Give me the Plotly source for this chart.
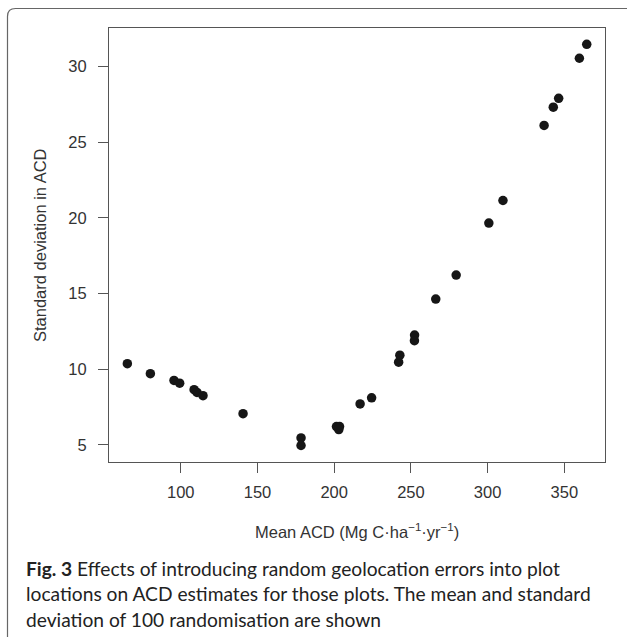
import plotly.graph_objects as go

# Data
mean_acd = [65.2, 80.2, 95.6, 99.3, 108.7, 110.6, 114.5, 140.6, 178.4, 178.4,
            201.5, 203.5, 203.0, 216.9, 224.4, 242.0, 242.8, 252.4, 252.3,
            266.2, 279.5, 300.8, 310.0, 336.8, 342.8, 346.3, 359.8, 364.6]
sd_acd = [10.36, 9.70, 9.25, 9.07, 8.64, 8.46, 8.24, 7.05, 5.45, 4.95,
          6.20, 6.20, 6.00, 7.70, 8.10, 10.46, 10.92, 12.25, 11.88,
          14.63, 16.21, 19.65, 21.14, 26.10, 27.31, 27.89, 30.54, 31.46]
x_ticks = [100, 150, 200, 250, 300, 350]
y_ticks = [5, 10, 15, 20, 25, 30]
x_title = "Mean ACD (Mg C·ha<sup>−1</sup>·yr<sup>−1</sup>)"
y_title = "Standard deviation in ACD"
caption_lines = [
    "<b>Fig. 3</b> Effects of introducing random geolocation errors into plot",
    "locations on ACD estimates for those plots. The mean and standard",
    "deviation of 100 randomisation are shown",
]

W, H = 627, 637
ML, MR, MT, MB = 109, 22, 28, 175
PW, PH = W - ML - MR, H - MT - MB


def px(x):
    return (x - ML) / PW


def py(y):
    return 1 - (y - MT) / PH


fig = go.Figure()
fig.add_trace(go.Scatter(
    x=mean_acd, y=sd_acd, mode="markers",
    marker=dict(size=9.5, color="#161616", line=dict(width=0)),
    showlegend=False, hoverinfo="x+y",
))

axis_common = dict(
    showgrid=False, zeroline=False, showline=True, mirror=True,
    linecolor="#555555", linewidth=1,
    ticks="outside", ticklen=10, tickwidth=1, tickcolor="#555555",
    tickfont=dict(family="Liberation Sans, Arial", size=16.5, color="#333333"),
)

fig.update_layout(
    width=W, height=H,
    margin=dict(l=ML, r=MR, t=MT, b=MB, autoexpand=False),
    paper_bgcolor="white", plot_bgcolor="white",
    xaxis=dict(range=[53.24, 376.5], tickvals=x_ticks, ticklabelstandoff=5,
               **axis_common),
    yaxis=dict(range=[3.86, 32.54], tickvals=y_ticks, ticklabelstandoff=8,
               **axis_common),
)

fig.add_annotation(
    text=x_title, xref="paper", yref="paper", x=px(357), y=py(531),
    xanchor="center", yanchor="middle", showarrow=False,
    font=dict(family="Liberation Sans, Arial", size=16.5, color="#333333"),
)
fig.add_annotation(
    text=y_title, xref="paper", yref="paper", x=px(39.5), y=py(245.5),
    xanchor="center", yanchor="middle", showarrow=False, textangle=-90,
    font=dict(family="Liberation Sans, Arial", size=16.5, color="#333333"),
)

for i, line in enumerate(caption_lines):
    fig.add_annotation(
        text=line, xref="paper", yref="paper", x=px(24), y=py(568 + 25.7 * i),
        xanchor="left", yanchor="middle", showarrow=False, align="left",
        font=dict(family="Lato", size=19.2, color="#222222"),
    )

# card border (rounded top-left corner)
r = 8
fig.add_shape(
    type="path", xref="paper", yref="paper",
    path=(f"M {px(7.5)} {py(660)} L {px(7.5)} {py(8.5 + r)} "
          f"Q {px(7.5)} {py(8.5)} {px(7.5 + r)} {py(8.5)} L {px(650)} {py(8.5)}"),
    line=dict(color="#666666", width=1.2),
)

fig.write_html("out.html")
